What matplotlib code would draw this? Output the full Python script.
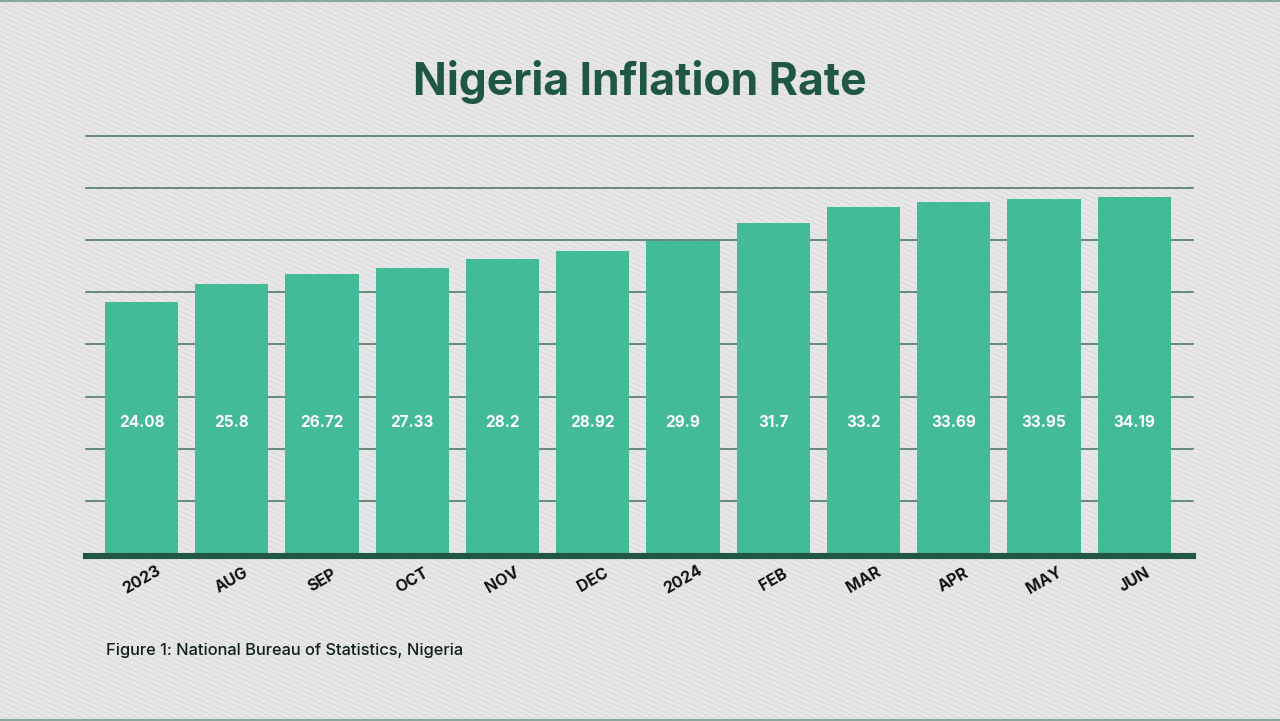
import matplotlib
matplotlib.use("Agg")
import matplotlib.pyplot as plt
from matplotlib.lines import Line2D
import numpy as np

# datos
meses = ["2023", "AUG", "SEP", "OCT", "NOV", "DEC", "2024", "FEB", "MAR", "APR", "MAY", "JUN"]
inflacion = [24.08, 25.8, 26.72, 27.33, 28.2, 28.92, 29.9, 31.7, 33.2, 33.69, 33.95, 34.19]
etiquetas = ["24.08", "25.8", "26.72", "27.33", "28.2", "28.92", "29.9", "31.7", "33.2", "33.69", "33.95", "34.19"]
grid_vals = [5, 10, 15, 20, 25, 30, 35, 40]

verde_osc = "#1f5646"
verde_bar = "#43bb98"
fuente = ["Inter", "DejaVu Sans"]

fig = plt.figure(figsize=(12.8, 7.21), dpi=100)
fig.patch.set_facecolor("#e7e7e7")

# fondo con rayas diagonales
W, H = 1280, 721
pend = np.tan(np.radians(24))
for y0 in np.arange(-10, H + W * pend + 10, 5):
    fig.add_artist(Line2D([0, W], [y0, y0 - W * pend], transform=None,
                          color="#dcdcdc", lw=0.9, zorder=-10))
# lineas finas arriba y abajo
for yb in (0.999, 0.001):
    fig.add_artist(Line2D([0, 1], [yb, yb], transform=fig.transFigure,
                          color="#8aa79c", lw=1.5, zorder=-5))

ax = fig.add_axes([0.0672, 0.233, 0.8648, 0.5784])
ax.set_facecolor("none")
x = np.arange(len(meses))

for g in grid_vals:
    ax.axhline(g, color="#45705f", lw=1.1, zorder=1, clip_on=False)

ax.bar(x, inflacion, width=0.81, color=verde_bar, zorder=2)
ax.axhline(-0.28, color=verde_osc, lw=4.4, zorder=3, clip_on=False)

for xi, lab in zip(x, etiquetas):
    ax.text(xi, 12.5, lab, color="white", fontsize=11, fontweight="bold",
            ha="center", va="center", family=fuente, zorder=4)

for xi, m in zip(x, meses):
    ax.text(xi, -0.065, m, transform=ax.get_xaxis_transform(), rotation=30,
            ha="center", va="center", fontsize=11.5, fontweight="bold",
            color="#111111", family=fuente)

ax.set_xlim(-0.615, 11.65)
ax.set_ylim(0, 40)
ax.set_xticks([])
ax.set_yticks([])
for s in ax.spines.values():
    s.set_visible(False)

fig.text(0.5, 0.886, "Nigeria Inflation Rate", ha="center", va="center",
         fontsize=32, fontweight="bold", color=verde_osc, family=fuente)
fig.text(106 / W, 1 - 650 / H, "Figure 1: National Bureau of Statistics, Nigeria",
         ha="left", va="center", fontsize=11.8, fontweight="medium",
         color="#0f1f1a", family=fuente)

fig.savefig("out.png", dpi=100, facecolor=fig.get_facecolor())
